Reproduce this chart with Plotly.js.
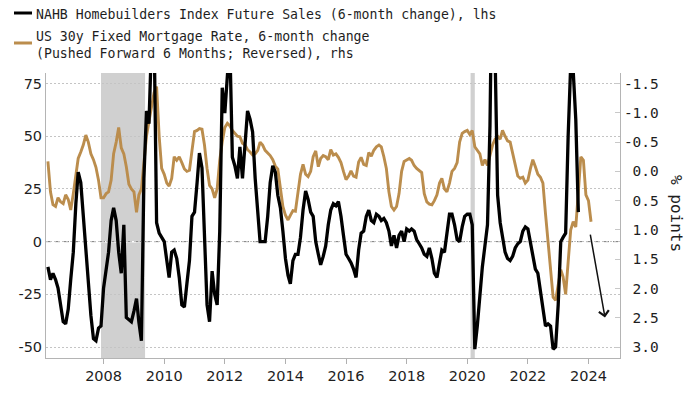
<!DOCTYPE html>
<html>
<head>
<meta charset="utf-8">
<script src="https://cdn.plot.ly/plotly-3.0.1.min.js"></script>
<style>html,body{margin:0;padding:0;background:#fff;}#chart{width:700px;height:394px;}</style>
</head>
<body>
<div id="chart"></div>
<script>
// ---- Data (monthly) ----
const nahbStart = '2006-03';
// NAHB Homebuilders Index Future Sales, 6-month % change (lhs)
const nahbValues = [
  -12, -18, -15, -18, -22, -30, -38, -39, -32, -18,            // 2006 Mar-Dec
  -5, 18, 33, 28, 12, -5, -16, -35, -46, -47, -41, -40,        // 2007
  -22, -13, -5, 10, 16, 10, -5, -15, 8, -36, -37, -38,         // 2008
  -33, -27, -38, -47, 30, 62, 56, 95, 100, 9, 4, 2,            // 2009
  0, -9, -17, -5, -4, -8, -17, -30, -31, -20, -9, 12,          // 2010
  14, 28, 42, 35, 0, -30, -38, -14, -25, -30, 5, 73,           // 2011
  61, 85, 95, 40, 36, 30, 45, 30, 48, 62, 58, 52,              // 2012
  30, 15, 0, 0, 0, 12, 28, 36, 33, 22, 16, 5,                  // 2013
  -8, -16, -20, -9, -6, -6, 2, 15, 24, 20, 14, 12,             // 2014
  0, -6, -11, -7, -2, 8, 15, 18, 17, 19, 12, 3,                // 2015
  -6, -8, -10, -13, -17, -4, 4, 5, 12, 15, 10, 9,              // 2016
  13, 12, 10, 11, 9, 5, -2, 3, -3, 3, 5, 0,                    // 2017
  6, 5, 6, 5, 1, -1, -3, -6, -7, -3, -8, -15,                  // 2018
  -17, -10, -4, -5, 3, 13, 13, 8, 1, 0, 7, 12,                 // 2019
  13, 13, 8, -51, -40, -25, -12, -2, 8, 55, 150, 90,           // 2020
  22, 9, 2, -5, -8, -9, -7, -3, -1, 0, 5, 7,                   // 2021
  6, 0, -6, -13, -15, -24, -32, -40, -39, -40, -51, -50,       // 2022
  -30, 0, 2, 4, 50, 84, 81, 58, 14                             // 2023 Jan-Sep
];

const mortStart = '2006-03';
// US 30y fixed mortgage rate, 6-month change, pushed forward 6 months (rhs, reversed)
const mortValues = [
  -0.17, 0.35, 0.57, 0.6, 0.45, 0.52, 0.55, 0.4, 0.48, 0.66,                  // 2006 Mar-Dec
  0.38, 0.08, -0.22, -0.33, -0.45, -0.62, -0.5, -0.3, -0.2, -0.07, 0.15, 0.45, // 2007
  0.45, 0.38, 0.35, 0.15, -0.3, -0.5, -0.75, -0.4, -0.3, -0.08, 0.22, 0.3,     // 2008
  0.35, 0.7, 0.4, 0.3, -0.15, -0.6, -0.85, -1.1, -1.35, -1.45, -0.6, -0.05,    // 2009
  0.05, 0.2, 0.25, 0.12, -0.25, -0.19, -0.25, -0.15, -0.04, 0.0, -0.02, -0.35, // 2010
  -0.68, -0.7, -0.73, -0.72, -0.45, -0.05, 0.24, 0.3, 0.45, 0.3, -0.19, -0.5,  // 2011
  -0.75, -0.82, -0.78, -0.7, -0.65, -0.6, -0.59, -0.48, -0.45, -0.37, -0.33, -0.28, // 2012
  -0.3, -0.36, -0.5, -0.45, -0.36, -0.31, -0.27, -0.2, -0.09, -0.04, 0.25, 0.6, // 2013
  0.75, 0.83, 0.75, 0.67, 0.68, 0.38, 0.05, -0.12, 0.05, 0.09, 0.0, -0.25,     // 2014
  -0.35, -0.08, -0.22, -0.27, -0.25, -0.2, -0.37, -0.28, -0.3, -0.24, -0.15, 0.0, // 2015
  0.14, 0.08, -0.01, 0.08, 0.1, -0.16, -0.24, -0.12, -0.1, -0.32, -0.26, -0.36, // 2016
  -0.42, -0.45, -0.42, -0.25, -0.05, 0.35, 0.6, 0.66, 0.6, 0.38, 0.0, -0.17,   // 2017
  -0.2, -0.22, -0.19, -0.1, -0.05, -0.02, 0.02, 0.38, 0.52, 0.56, 0.57, 0.5,   // 2018
  0.4, 0.2, 0.12, 0.3, 0.35, 0.2, 0.0, -0.05, -0.15, -0.5, -0.65, -0.68,       // 2019
  -0.7, -0.63, -0.7, -0.42, -0.35, -0.3, -0.1, -0.2, -0.1, -0.3, -0.45, -0.55, // 2020
  -0.6, -0.55, -0.7, -0.6, -0.52, -0.5, -0.32, -0.1, 0.08, 0.12, 0.1, 0.2,     // 2021
  0.15, -0.05, -0.2, -0.08, 0.05, 0.1, 0.2, 0.72, 1.2, 1.75, 2.15, 2.2,        // 2022
  1.9, 1.68, 1.8, 2.1, 1.55, 1.0, 0.86, 0.95, 0.35, -0.25, -0.19, 0.4,         // 2023
  0.5, 0.86                                                                    // 2024 Jan-Feb
];

// Projection arrow (lhs units)
const forecastX = ['2024-01-20', '2024-07-18'];
const forecastY = [4, -36];

// Recession shading
const recessionStart = ['2007-12-01', '2020-02-10'];
const recessionEnd   = ['2009-05-15', '2020-04-01'];

// Axis ticks
const xTickVals = ['2008-01-01','2010-01-01','2012-01-01','2014-01-01','2016-01-01','2018-01-01','2020-01-01','2022-01-01','2024-01-01'];
const xTickText = ['2008','2010','2012','2014','2016','2018','2020','2022','2024'];
const lhsTickVals = [-50, -25, 0, 25, 50, 75];
const lhsTickText = ['-50', '-25', '0', '25', '50', '75'];
const rhsTickVals = [-1.5, -1.0, -0.5, 0.0, 0.5, 1.0, 1.5, 2.0, 2.5, 3.0];
const rhsTickText = ['-1.5', '-1.0', '-0.5', '\u00A00.0', '\u00A00.5', '\u00A01.0', '\u00A01.5', '\u00A02.0', '\u00A02.5', '\u00A03.0'];

const legendNahb = 'NAHB Homebuilders Index Future Sales (6-month change), lhs';
const legendMort1 = 'US 30y Fixed Mortgage Rate, 6-month change';
const legendMort2 = '(Pushed Forward 6 Months; Reversed), rhs';
const rhsTitle = '% points';

// ---- helpers ----
function monthSeq(start, n) {
  let [y, m] = start.split('-').map(Number);
  const out = [];
  for (let i = 0; i < n; i++) {
    out.push(y + '-' + String(m).padStart(2, '0') + '-01');
    m++; if (m > 12) { m = 1; y++; }
  }
  return out;
}

const BLACK = '#000000';
const GOLD = '#bb8d4d';
const TXT = '#1e1e1e';

const traces = [
  {
    type: 'scatter', mode: 'lines', name: legendMort1 + ' ' + legendMort2,
    x: monthSeq(mortStart, mortValues.length), y: mortValues,
    xaxis: 'x', yaxis: 'y',
    line: {color: GOLD, width: 2.9}
  },
  {
    type: 'scatter', mode: 'lines', name: legendNahb,
    x: monthSeq(nahbStart, nahbValues.length), y: nahbValues,
    xaxis: 'x', yaxis: 'y2',
    line: {color: BLACK, width: 3.3}
  }
];

// pixel helpers for paper coordinates (plot area: l=46, r=620, t=73, b=358)
const L = 46, R = 620, T = 73, B = 358;
const px = v => (v - L) / (R - L);
const py = v => (B - v) / (B - T);

const shapes = [];
for (let i = 0; i < recessionStart.length; i++) {
  shapes.push({type: 'rect', xref: 'x', yref: 'paper', x0: recessionStart[i], x1: recessionEnd[i], y0: 0, y1: 1,
    fillcolor: '#d0d0d0', line: {width: 0}, layer: 'below'});
}
// zero line: white underlay to hide dotted grid, then dashed line
shapes.push({type: 'line', xref: 'paper', yref: 'y2', x0: 0, x1: 1, y0: 0, y1: 0,
  line: {color: '#ffffff', width: 1.5}, layer: 'between'});
shapes.push({type: 'line', xref: 'paper', yref: 'y2', x0: 0, x1: 1, y0: 0, y1: 0,
  line: {color: '#7a7a7a', width: 1, dash: '5px,4px'}, layer: 'between'});
// legend swatches
shapes.push({type: 'line', xref: 'paper', yref: 'paper', x0: px(14), x1: px(32), y0: py(13), y1: py(13), line: {color: BLACK, width: 3}});
shapes.push({type: 'line', xref: 'paper', yref: 'paper', x0: px(14), x1: px(32), y0: py(43), y1: py(43), line: {color: GOLD, width: 3}});

const legFont = {family: 'DejaVu Sans Mono', size: 13.2, color: TXT};
const annotations = [
  {xref: 'paper', yref: 'paper', x: px(34), y: py(14), xanchor: 'left', yanchor: 'middle', text: legendNahb, showarrow: false, font: legFont},
  {xref: 'paper', yref: 'paper', x: px(34), y: py(36), xanchor: 'left', yanchor: 'middle', text: legendMort1, showarrow: false, font: legFont},
  {xref: 'paper', yref: 'paper', x: px(34), y: py(53), xanchor: 'left', yanchor: 'middle', text: legendMort2, showarrow: false, font: legFont},
  {xref: 'paper', yref: 'paper', x: px(677), y: py(213), xanchor: 'center', yanchor: 'middle', text: rhsTitle, textangle: 90, showarrow: false,
    font: {family: 'DejaVu Sans Mono', size: 16, color: TXT}},
  {xref: 'x', yref: 'y2', x: forecastX[1], y: forecastY[1], axref: 'x', ayref: 'y2', ax: forecastX[0], ay: forecastY[0],
    text: '', showarrow: true, arrowhead: 4, arrowsize: 1.3, arrowwidth: 1.5, arrowcolor: '#111', standoff: 0, startstandoff: 0}
];

const layout = {
  width: 700, height: 394,
  margin: {l: L, r: 700 - R, t: T, b: 394 - B, pad: 0},
  paper_bgcolor: '#ffffff', plot_bgcolor: '#ffffff',
  showlegend: false,
  font: {family: 'DejaVu Sans', color: TXT},
  xaxis: {
    type: 'date', range: ['2006-02-06', '2025-01-15'],
    tickmode: 'array', tickvals: xTickVals, ticktext: xTickText,
    ticks: 'outside', ticklen: 5, tickcolor: '#b0b0b0',
    showline: true, linecolor: '#b4b4b4', linewidth: 1,
    showgrid: false, zeroline: false,
    tickfont: {family: 'DejaVu Sans', size: 14.5, color: TXT}
  },
  yaxis: {
    side: 'right', range: [3.187, -1.68],
    tickmode: 'array', tickvals: rhsTickVals, ticktext: rhsTickText,
    ticks: 'inside', ticklen: 5, tickcolor: '#c8c8c8',
    showline: true, linecolor: '#b4b4b4', linewidth: 1,
    showgrid: false, zeroline: false,
    tickfont: {family: 'DejaVu Sans Mono', size: 14.5, color: TXT}
  },
  yaxis2: {
    overlaying: 'y', side: 'left', range: [-55.2, 80],
    tickmode: 'array', tickvals: lhsTickVals, ticktext: lhsTickText,
    ticks: '',
    showline: true, linecolor: '#b4b4b4', linewidth: 1,
    showgrid: true, gridcolor: '#c4c4c4', gridwidth: 1, griddash: '2px,2px',
    zeroline: false,
    tickfont: {family: 'DejaVu Sans', size: 14.5, color: TXT}
  },
  shapes: shapes,
  annotations: annotations
};

Plotly.newPlot('chart', traces, layout, {displayModeBar: false, staticPlot: true});
</script>
</body>
</html>
